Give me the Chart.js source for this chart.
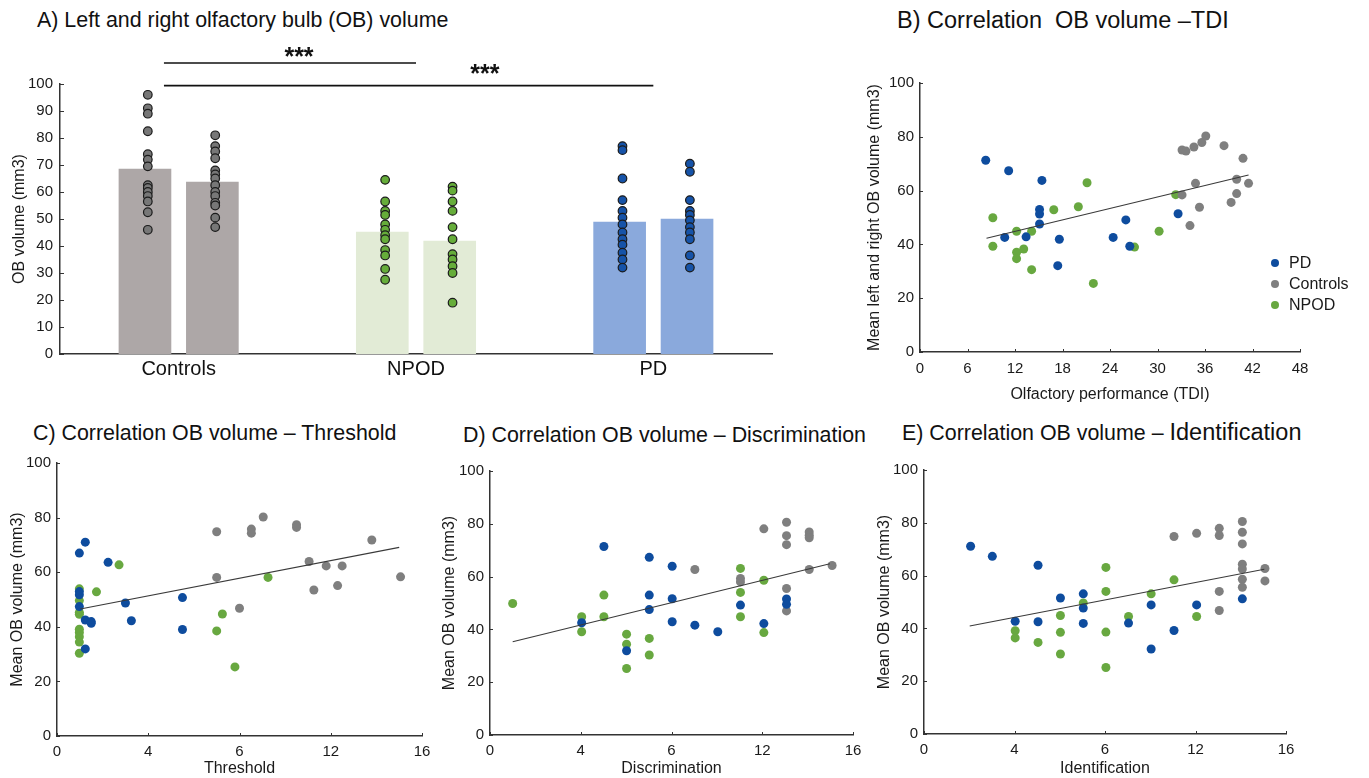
<!DOCTYPE html>
<html>
<head>
<meta charset="utf-8">
<script src="https://cdn.jsdelivr.net/npm/chart.js@4.4.1/dist/chart.umd.min.js"></script>
<style>
  html, body { margin: 0; padding: 0; background: #fff; }
  body { width: 1369px; height: 778px; position: relative; overflow: hidden; font-family: "Liberation Sans", Arial, sans-serif; color: #111; }
  canvas { position: absolute; }
  .ttl { position: absolute; font-size: 21.4px; line-height: 24px; white-space: pre; color: #111; }
  .big { font-size: 23.5px; }
</style>
</head>
<body>
<div class="ttl" style="left:37px; top:8px;">A) Left and right olfactory bulb (OB) volume</div>
<div class="ttl" style="left:897px; top:8px; font-size:23.5px;">B) Correlation  OB volume –TDI</div>
<div class="ttl" style="left:33px; top:421px;">C) Correlation OB volume – Threshold</div>
<div class="ttl" style="left:463px; top:423px;">D) Correlation OB volume – Discrimination</div>
<div class="ttl" style="left:902px; top:420px;">E) Correlation OB volume – <span class="big">Identification</span></div>

<canvas id="chartA" width="800" height="360" style="left:0px; top:30px;"></canvas>
<canvas id="chartB" width="509" height="370" style="left:860px; top:40px;"></canvas>
<canvas id="chartC" width="440" height="368" style="left:0px; top:410px;"></canvas>
<canvas id="chartD" width="440" height="368" style="left:430px; top:410px;"></canvas>
<canvas id="chartE" width="509" height="368" style="left:860px; top:410px;"></canvas>

<script>
// ---- A) bar means + individual OB volumes ----
const groups      = ["Controls", "NPOD", "PD"];
const leftVolume  = [68.5, 45.2, 48.9];
const rightVolume = [63.7, 41.8, 50.0];

const controlsLeftOB  = [96, 91, 89, 82.5, 74, 72, 69.5, 62.5, 61.5, 60, 58.5, 56.5, 52.5, 46];
const controlsRightOB = [81, 77, 75, 72.5, 68, 66.5, 65, 62.5, 60, 58.5, 56, 55, 50.5, 47];
const npodLeftOB      = [64.5, 56.5, 53, 51.5, 48, 46, 44, 42.5, 38.5, 36.5, 31.5, 27.5];
const npodRightOB     = [62, 60.5, 56.5, 53, 47, 42.5, 37, 35, 32.5, 30, 19];
const pdLeftOB        = [77, 75.5, 65, 57, 53, 50.5, 48, 45, 42.5, 40.5, 37.5, 35, 32];
const pdRightOB       = [70.5, 67.5, 57, 53, 51.5, 49.5, 47, 45, 42.5, 36.5, 32];

// significance bars (x in group units, y in mm3)
const sigBars = [
  { from: -0.062, to: 1.0, y: 107.8, label: "***", labelX: 0.507, labelY: 107.2 },
  { from: -0.062, to: 2.0, y: 99.4,  label: "***", labelX: 1.29,  labelY: 100.6 }
];

// ---- B) TDI ----
const tdiPD    = [8.3, 11.2, 15.4, 15.1, 15.1, 15.1, 10.7, 13.4, 17.6, 17.4, 24.4, 26.0, 26.5, 32.6];
const obPD_tdi = [71.3, 67.4, 63.8, 53.0, 51.3, 47.6, 42.6, 42.8, 41.9, 32.1, 42.6, 49.1, 39.3, 51.4];
const tdiCtrl    = [33.1, 33.6, 34.6, 35.6, 36.1, 38.4, 40.8, 40.0, 41.5, 34.8, 33.1, 40.0, 39.3, 35.3, 34.1];
const obCtrl_tdi = [75.1, 74.7, 76.2, 77.9, 80.3, 76.7, 72.0, 64.2, 62.7, 62.7, 58.4, 58.9, 55.6, 53.8, 47.0];
const tdiNPOD    = [9.2, 9.2, 12.2, 12.2, 12.2, 13.1, 14.1, 14.1, 16.9, 20.0, 21.1, 21.9, 27.1, 30.2, 32.3];
const obNPOD_tdi = [49.9, 39.3, 44.9, 37.1, 34.7, 38.3, 44.9, 30.6, 52.9, 54.0, 62.9, 25.5, 39.0, 44.9, 58.5];
const fitTDI = [[8.4, 42.3], [41.5, 65.8]];
const tdiTicks = [0, 6, 12, 18, 24, 30, 36, 42, 48];

// ---- C) Threshold ----
const thrPD    = [0.98, 1.24, 0.98, 0.98, 0.98, 1.24, 1.5, 1.5, 1.24, 2.24, 3.0, 3.26, 5.5, 5.5];
const obPD_thr = [67.0, 71.0, 52.9, 51.7, 47.4, 42.5, 41.9, 41.3, 31.9, 63.6, 48.7, 42.2, 50.7, 39.0];
const thrCtrl    = [7.0, 8.52, 8.52, 9.04, 10.5, 10.5, 13.8, 11.05, 11.8, 12.5, 7.0, 15.06, 11.26, 12.3, 8.0];
const obCtrl_thr = [74.8, 75.8, 74.3, 80.2, 77.4, 76.4, 71.8, 63.9, 62.3, 62.3, 58.1, 58.3, 53.5, 55.1, 46.8];
const thrNPOD    = [0.98, 0.98, 0.98, 0.98, 0.98, 0.98, 0.98, 0.98, 0.98, 1.73, 2.72, 7.0, 7.25, 7.8, 9.25];
const obNPOD_thr = [53.9, 49.6, 44.6, 45.3, 39.1, 37.9, 36.4, 34.4, 30.3, 52.8, 62.7, 38.5, 44.7, 25.3, 58.1];
const fitThr = [[1.02, 46.5], [15.0, 69.1]];

// ---- D) Discrimination ----
const disPD    = [5.02, 7.02, 8.03, 7.02, 8.03, 7.02, 4.04, 8.03, 9.03, 10.04, 6.02, 11.04, 12.07, 13.07, 13.07];
const obPD_dis = [71.4, 67.3, 63.9, 53.0, 51.6, 47.5, 42.5, 42.9, 41.6, 39.1, 31.9, 49.2, 42.2, 51.5, 49.5];
const disCtrl    = [12.07, 13.07, 13.07, 13.07, 14.07, 14.07, 14.07, 9.03, 11.04, 11.04, 14.07, 15.08, 13.07, 13.07];
const obCtrl_dis = [78.1, 80.6, 75.5, 72.1, 76.9, 75.7, 74.7, 62.7, 59.3, 58.0, 62.7, 64.2, 55.5, 47.0];
const disNPOD    = [1.0, 4.04, 4.04, 5.02, 5.02, 6.02, 6.02, 6.02, 7.02, 7.02, 11.04, 11.04, 11.04, 12.07, 12.07];
const obNPOD_dis = [49.8, 44.8, 39.1, 53.0, 44.8, 38.2, 34.4, 25.2, 36.6, 30.3, 63.1, 54.0, 44.8, 58.6, 38.8];
const fitDis = [[1.0, 35.3], [14.98, 64.9]];

// ---- E) Identification ----
const idPD    = [2.06, 3.02, 5.04, 6.03, 7.04, 7.04, 7.04, 4.03, 5.04, 9.04, 10.04, 10.04, 11.05, 12.05, 14.07];
const obPD_id = [71.1, 67.3, 63.9, 51.5, 53.1, 47.7, 41.9, 42.7, 42.5, 42.0, 48.9, 32.2, 39.2, 48.9, 51.2];
const idCtrl    = [11.05, 12.05, 13.05, 13.05, 14.07, 14.07, 14.07, 14.07, 14.07, 14.07, 14.07, 15.07, 15.07, 13.05, 13.05];
const obCtrl_id = [74.8, 76.0, 77.9, 75.2, 80.5, 76.4, 72.0, 64.3, 62.5, 58.6, 55.6, 62.7, 58.0, 54.0, 46.8];
const idNPOD    = [4.03, 4.03, 5.04, 6.03, 6.03, 6.03, 7.04, 8.04, 8.04, 8.04, 8.04, 9.04, 10.04, 11.05, 12.05];
const obNPOD_id = [39.1, 36.4, 34.7, 44.9, 38.5, 30.3, 49.6, 63.1, 54.0, 38.6, 25.2, 44.5, 53.1, 58.4, 44.5];
const fitId = [[2.02, 40.9], [15.04, 62.4]];

// tick values / labels of the subscores (as printed in the figure)
const subTicks      = [0, 4, 8, 12, 16];
const subTickLabels = ["0", "4", "6", "12", "16"];

// colores
const COL_PD = "#0E4C9E", COL_CTRL = "#7F7F7F", COL_NPOD = "#68A840";
const AXIS = "#333";

Chart.defaults.font.family = "'Liberation Sans', Arial, sans-serif";
Chart.defaults.color = "#1a1a1a";

const pts = (xs, ys) => xs.map((x, i) => ({ x, y: ys[i] }));

// ── ticks cortos hacia dentro ─────────────────────────────
const innerTicks = {
  id: "innerTicks",
  afterDraw(chart, args, opts) {
    const { ctx, chartArea } = chart;
    ctx.save();
    ctx.strokeStyle = AXIS;
    ctx.lineWidth = 1;
    (opts.axes || []).forEach((id) => {
      const s = chart.scales[id];
      s.ticks.forEach((t, i) => {
        const p = Math.round(s.getPixelForTick(i)) + 0.5;
        ctx.beginPath();
        if (s.isHorizontal()) {
          ctx.moveTo(p, chartArea.bottom);
          ctx.lineTo(p, chartArea.bottom - opts.length);
        } else {
          ctx.moveTo(chartArea.left, p);
          ctx.lineTo(chartArea.left + opts.length, p);
        }
        ctx.stroke();
      });
    });
    ctx.restore();
  }
};

// ── barras de significancia (panel A) ─────────────────────
const sigPlugin = {
  id: "sigBars",
  afterDraw(chart, args, opts) {
    const { ctx } = chart;
    const xs = chart.scales.x, ys = chart.scales.y;
    ctx.save();
    ctx.strokeStyle = "#111";
    ctx.fillStyle = "#111";
    ctx.lineWidth = 1.6;
    ctx.font = "bold 25px 'Liberation Sans', Arial, sans-serif";
    ctx.textAlign = "center";
    ctx.textBaseline = "alphabetic";
    opts.bars.forEach((b) => {
      const y = ys.getPixelForValue(b.y);
      ctx.beginPath();
      ctx.moveTo(xs.getPixelForValue(b.from), y);
      ctx.lineTo(xs.getPixelForValue(b.to), y);
      ctx.stroke();
      ctx.fillText(b.label, xs.getPixelForValue(b.labelX), ys.getPixelForValue(b.labelY));
    });
    ctx.restore();
  }
};

// ── leyenda dentro del área (panel B) ─────────────────────
const cornerLegend = {
  id: "cornerLegend",
  afterDraw(chart, args, opts) {
    const { ctx, chartArea } = chart;
    ctx.save();
    ctx.font = "16px 'Liberation Sans', Arial, sans-serif";
    ctx.textBaseline = "middle";
    ctx.textAlign = "left";
    let y = chartArea.bottom - opts.fromBottom;
    chart.data.datasets.filter((d) => !d.showLine).forEach((d) => {
      const x = chartArea.right - opts.fromRight;
      ctx.fillStyle = d.backgroundColor;
      ctx.beginPath();
      ctx.arc(x, y, 4, 0, Math.PI * 2);
      ctx.fill();
      ctx.fillStyle = "#1a1a1a";
      ctx.fillText(d.label, x + 14, y + 1);
      y += opts.step;
    });
    ctx.restore();
  }
};

// ── Panel A ───────────────────────────────────────────────
const side = 0.142, nudge = 0.012;
const barColors = ["#ADA7A7", "#E2EBD6", "#8AA9DC"];

function dotSet(label, leftVals, rightVals, g, fill) {
  const data = leftVals.map((v) => ({ x: g - side + nudge, y: v }))
    .concat(rightVals.map((v) => ({ x: g + side + nudge, y: v })));
  return {
    type: "scatter", label, data,
    backgroundColor: fill, borderColor: "#1b1b1b", borderWidth: 1.2, pointRadius: 4.3
  };
}
function barSet(label, vals, offset) {
  return {
    type: "bar", label, data: vals.map((v, i) => ({ x: i + offset, y: v })),
    backgroundColor: barColors, barThickness: 52, grouped: false
  };
}

new Chart(document.getElementById("chartA"), {
  type: "bar",
  data: {
    datasets: [
      dotSet("Controls", controlsLeftOB, controlsRightOB, 0, "#777777"),
      dotSet("NPOD", npodLeftOB, npodRightOB, 1, "#66AD3A"),
      dotSet("PD", pdLeftOB, pdRightOB, 2, "#1653A8"),
      barSet("Left", leftVolume, -side),
      barSet("Right", rightVolume, side)
    ]
  },
  options: {
    responsive: false, animation: false,
    layout: { padding: { top: 54, right: 28, left: 0, bottom: 0 } },
    plugins: { legend: { display: false }, tooltip: { enabled: false }, sigBars: { bars: sigBars },
      innerTicks: { axes: ["y"], length: 4 } },
    scales: {
      x: {
        type: "linear", min: -0.5, max: 2.5, offset: false,
        grid: { display: false, drawTicks: false }, border: { display: true, color: AXIS, width: 1.5 },
        afterBuildTicks: (s) => { s.ticks = groups.map((g, i) => ({ value: i })); },
        ticks: { font: { size: 20 }, color: "#111", padding: 3, callback: (v, i) => groups[i] },
        afterFit: (s) => { s.height = 36; }
      },
      y: {
        min: 0, max: 100,
        grid: { display: false, drawTicks: false }, border: { display: true, color: AXIS, width: 1.5 },
        ticks: { stepSize: 10, font: { size: 15 }, color: "#1a1a1a", padding: 7 },
        title: { display: true, text: "OB volume (mm3)", font: { size: 16 }, color: "#1a1a1a", padding: { top: 10, bottom: 0 } },
        afterFit: (s) => { s.width = 60; }
      }
    }
  },
  plugins: [sigPlugin, innerTicks]
});

// ── Paneles de correlación ────────────────────────────────
function scatterPanel(id, o) {
  // la recta va primero para quedar dibujada encima de los puntos
  const datasets = [
    { label: "fit", data: o.fit.map(([x, y]) => ({ x, y })), showLine: true,
      borderColor: "#3a3a3a", borderWidth: 1.1, pointRadius: 0 },
    { label: "PD", data: o.pd, backgroundColor: COL_PD, pointRadius: 4.5, borderWidth: 0 },
    { label: "Controls", data: o.ctrl, backgroundColor: COL_CTRL, pointRadius: 4.5, borderWidth: 0 },
    { label: "NPOD", data: o.npod, backgroundColor: COL_NPOD, pointRadius: 4.5, borderWidth: 0 }
  ];
  return new Chart(document.getElementById(id), {
    type: "scatter",
    data: { datasets },
    options: {
      responsive: false, animation: false,
      layout: { padding: o.pad },
      plugins: {
        legend: { display: false }, tooltip: { enabled: false },
        innerTicks: { axes: ["x", "y"], length: 3 },
        cornerLegend: o.legend || false
      },
      scales: {
        x: {
          min: o.xTicks[0], max: o.xTicks[o.xTicks.length - 1],
          grid: { display: false, drawTicks: false }, border: { display: true, color: AXIS, width: 1.5 },
          afterBuildTicks: (s) => { s.ticks = o.xTicks.map((v) => ({ value: v })); },
          ticks: { font: { size: 15 }, color: "#1a1a1a", padding: o.xPad,
            callback: (v, i) => o.xLabels[i] },
          title: { display: true, text: o.xTitle, font: { size: 16 }, color: "#1a1a1a",
            padding: { top: 0, bottom: o.xTitlePad } },
          afterFit: (s) => { s.height = o.xH; }
        },
        y: {
          min: 0, max: 100,
          grid: { display: false, drawTicks: false }, border: { display: true, color: AXIS, width: 1.5 },
          ticks: { stepSize: 20, font: { size: 15 }, color: "#1a1a1a", padding: 6 },
          title: { display: true, text: o.yTitle, font: { size: 16 }, color: "#1a1a1a",
            padding: { top: o.yTitlePad, bottom: 0 } },
          afterFit: (s) => { s.width = o.yW; }
        }
      }
    },
    plugins: o.legend ? [innerTicks, cornerLegend] : [innerTicks]
  });
}

scatterPanel("chartB", {
  pd: pts(tdiPD, obPD_tdi), ctrl: pts(tdiCtrl, obCtrl_tdi), npod: pts(tdiNPOD, obNPOD_tdi), fit: fitTDI,
  xTicks: tdiTicks, xLabels: tdiTicks.map(String),
  xTitle: "Olfactory performance (TDI)", yTitle: "Mean left and right OB volume (mm3)",
  pad: { top: 43, right: 69, left: 0, bottom: 0 }, yW: 60, xH: 58, xPad: 8, xTitlePad: 6, yTitlePad: 5,
  legend: { fromRight: 25, fromBottom: 89, step: 21 }
});

scatterPanel("chartC", {
  pd: pts(thrPD, obPD_thr), ctrl: pts(thrCtrl, obCtrl_thr), npod: pts(thrNPOD, obNPOD_thr), fit: fitThr,
  xTicks: subTicks, xLabels: subTickLabels,
  xTitle: "Threshold", yTitle: "Mean OB volume (mm3)",
  pad: { top: 53, right: 18, left: 0, bottom: 0 }, yW: 57, xH: 42, xPad: 7, xTitlePad: 0, yTitlePad: 8
});

scatterPanel("chartD", {
  pd: pts(disPD, obPD_dis), ctrl: pts(disCtrl, obCtrl_dis), npod: pts(disNPOD, obNPOD_dis), fit: fitDis,
  xTicks: subTicks, xLabels: subTickLabels,
  xTitle: "Discrimination", yTitle: "Mean OB volume (mm3)",
  pad: { top: 61, right: 17, left: 0, bottom: 0 }, yW: 60, xH: 43, xPad: 7, xTitlePad: 0, yTitlePad: 10
});

scatterPanel("chartE", {
  pd: pts(idPD, obPD_id), ctrl: pts(idCtrl, obCtrl_id), npod: pts(idNPOD, obNPOD_id), fit: fitId,
  xTicks: subTicks, xLabels: subTickLabels,
  xTitle: "Identification", yTitle: "Mean OB volume (mm3)",
  pad: { top: 60, right: 83, left: 0, bottom: 0 }, yW: 64, xH: 44, xPad: 7, xTitlePad: 0, yTitlePad: 15
});
</script>
</body>
</html>
